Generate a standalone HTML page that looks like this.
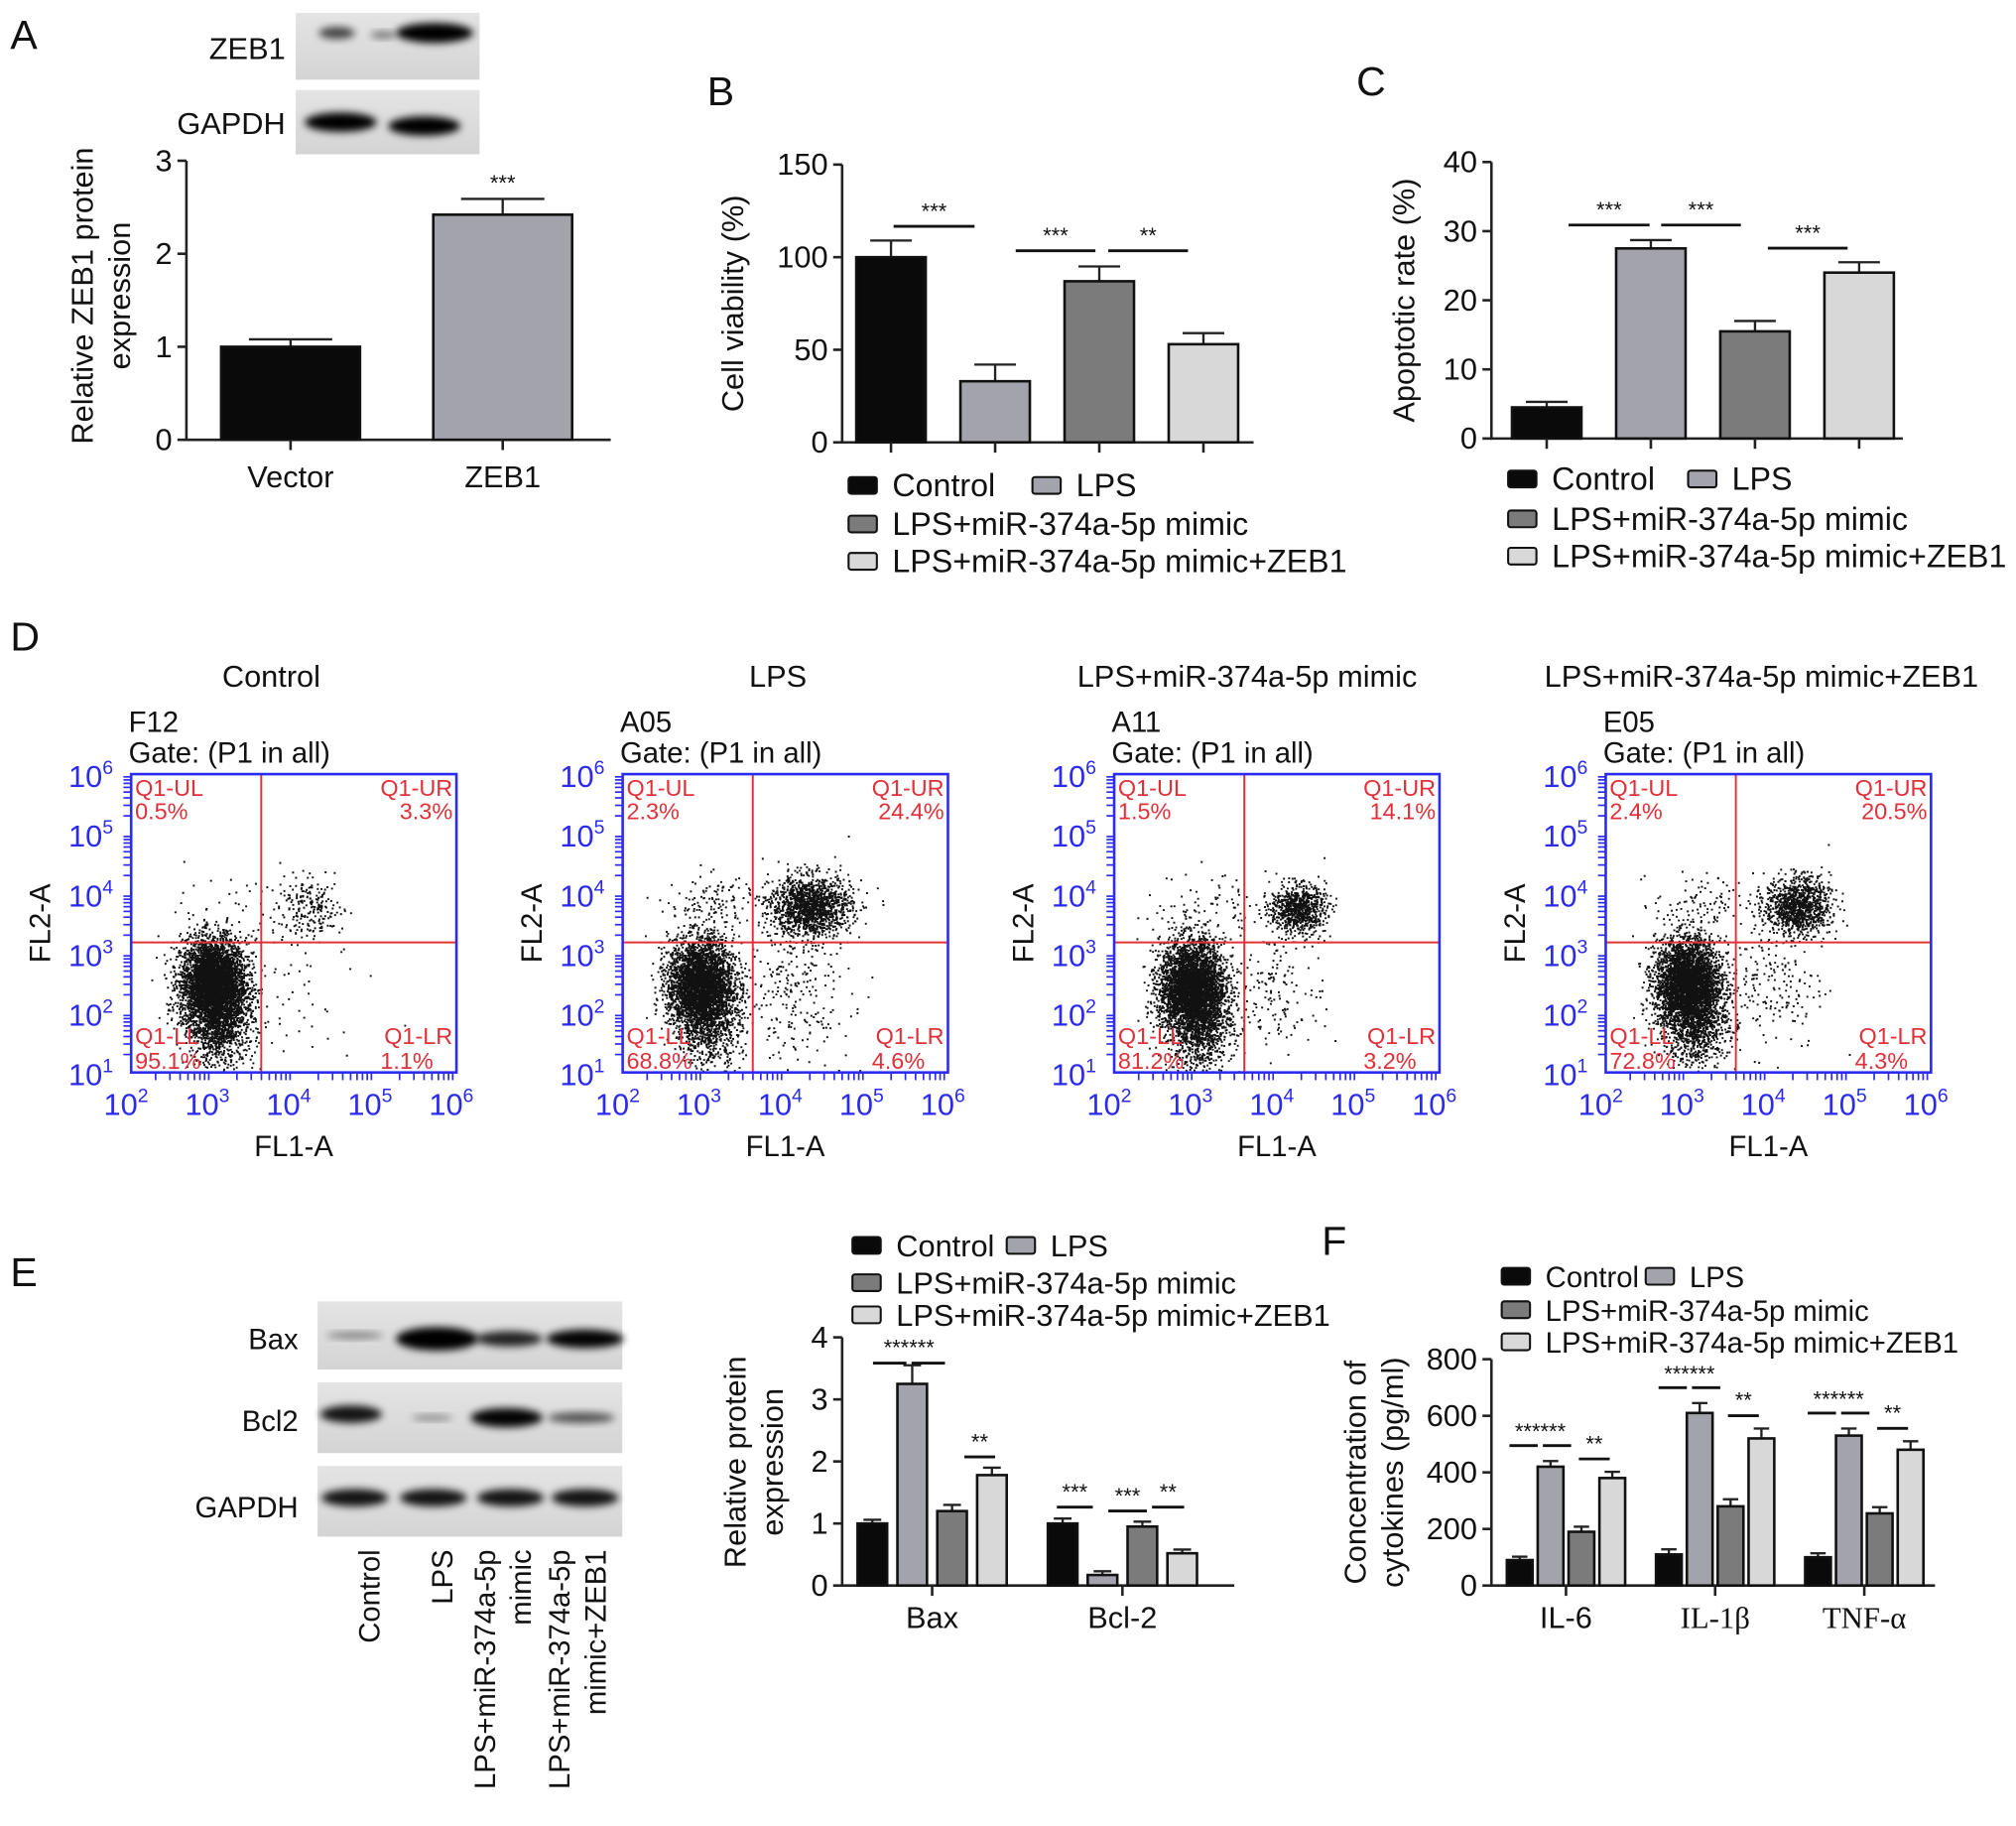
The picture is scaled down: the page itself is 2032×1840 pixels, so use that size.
<!DOCTYPE html>
<html><head><meta charset="utf-8"><style>
html,body{margin:0;padding:0;background:#fff;}
svg{display:block;font-family:"Liberation Sans",Arial,sans-serif;}
</style></head><body>
<svg id="fig" width="2032" height="1840" viewBox="0 0 1568 1420" preserveAspectRatio="none" xmlns="http://www.w3.org/2000/svg">
<defs>
<filter id="blur2" x="-20%" y="-50%" width="140%" height="200%"><feGaussianBlur stdDeviation="3"/></filter>
<linearGradient id="blotbg" x1="0" y1="0" x2="0" y2="1"><stop offset="0" stop-color="#e4e4e4"/><stop offset="1" stop-color="#d4d4d4"/></linearGradient>
</defs>
<g id="root"></g>
</svg>
<script>
// ---------- data ----------
const aCats = ["Vector", "ZEB1"];
const aVals = [1.0, 2.42];
const aErr = [0.08, 0.17];
const groups4 = ["Control", "LPS", "LPS+miR-374a-5p mimic", "LPS+miR-374a-5p mimic+ZEB1"];
const bVals = [100, 33, 87, 53];
const bErr = [9, 9, 8, 6];
const bTicks = [0, 50, 100, 150];
const cVals = [4.5, 27.5, 15.5, 24];
const cErr = [0.8, 1.2, 1.5, 1.5];
const cTicks = [0, 10, 20, 30, 40];
const eGroups = ["Bax", "Bcl-2"];
const eControl = [1.0, 1.0];
const eLPS = [3.25, 0.17];
const eMimic = [1.2, 0.95];
const eZEB1 = [1.78, 0.52];
const eErrControl = [0.06, 0.08];
const eErrLPS = [0.3, 0.06];
const eErrMimic = [0.1, 0.08];
const eErrZEB1 = [0.12, 0.06];
const eTicks = [0, 1, 2, 3, 4];
const fGroups = ["IL-6", "IL-1β", "TNF-α"];
const fControl = [90, 110, 100];
const fLPS = [420, 610, 530];
const fMimic = [190, 280, 255];
const fZEB1 = [380, 520, 480];
const fErrControl = [12, 18, 14];
const fErrLPS = [20, 35, 25];
const fErrMimic = [18, 25, 22];
const fErrZEB1 = [22, 35, 30];
const fTicks = [0, 200, 400, 600, 800];
const flowTitles = ["Control", "LPS", "LPS+miR-374a-5p mimic", "LPS+miR-374a-5p mimic+ZEB1"];
const flowIds = ["F12", "A05", "A11", "E05"];
const flowUL = ["0.5%", "2.3%", "1.5%", "2.4%"];
const flowUR = ["3.3%", "24.4%", "14.1%", "20.5%"];
const flowLL = ["95.1%", "68.8%", "81.2%", "72.8%"];
const flowLR = ["1.1%", "4.6%", "3.2%", "4.3%"];
// clusters per plot in log units: [cx, cy, sx, sy, count]
const flowClusters = [
  [[3.0,2.5,0.2,0.38,4200],[3.1,1.8,0.2,0.35,900],[4.2,3.75,0.2,0.25,220],[3.2,3.6,0.5,0.4,50],[4.0,2.5,0.5,0.6,50]],
  [[2.95,2.5,0.2,0.38,3400],[3.05,1.8,0.2,0.35,700],[4.3,3.8,0.25,0.25,1500],[3.05,3.85,0.25,0.25,110],[4.1,2.4,0.35,0.6,250]],
  [[2.95,2.45,0.2,0.38,3800],[3.05,1.75,0.2,0.35,800],[4.25,3.75,0.17,0.2,800],[3.1,3.8,0.3,0.3,80],[4.0,2.5,0.3,0.55,160]],
  [[3.0,2.5,0.2,0.38,3600],[3.1,1.8,0.2,0.35,750],[4.35,3.8,0.2,0.24,1100],[3.2,3.85,0.3,0.25,90],[4.0,2.5,0.35,0.55,200]]
];
const flowGateX = 3.6, flowGateY = 3.18;

// ---------- helpers ----------
const NS = "http://www.w3.org/2000/svg";
const root = document.getElementById("root");
const FS = 1.13;
function el(tag, attrs, parent, text){
  const e = document.createElementNS(NS, tag);
  for (const k in attrs) e.setAttribute(k, attrs[k]);
  if (text !== undefined) e.textContent = text;
  (parent || root).appendChild(e);
  return e;
}
function grp(name, parent){
  const g = document.createElementNS(NS, "g");
  
  
  (parent || root).appendChild(g);
  return g;
}
function txt(parent, name, x, y, s, size, anchor, extra){
  const t = el("text", Object.assign({x:x, y:y, "font-size":size*FS, "text-anchor":anchor||"start", fill:"#111"}, extra||{}), parent, s);
  
  
  return t;
}
const FILLS = ["#0a0a0a", "#a3a3ab", "#7b7b7b", "#d8d8d8"];

function yAxis(g, x, y0, yTop, max, ticks, fs){
  const sy = v => y0 - (v / max) * (y0 - yTop);
  const ax = el("line", {x1:x, y1:y0+1, x2:x, y2:yTop, stroke:"#222", "stroke-width":2}, g);
  
  
  ticks.forEach(t => {
    el("line", {x1:x-7, y1:sy(t), x2:x, y2:sy(t), stroke:"#222", "stroke-width":2}, g);
    txt(g, "y-tick-label", x-11, sy(t)+8, String(t), fs||21, "end");
  });
  return sy;
}
function bar(g, name, x, w, sy, v, e, fill){
  if (e) {
    el("line", {x1:x+w/2, y1:sy(v), x2:x+w/2, y2:sy(v+e), stroke:"#222", "stroke-width":1.8}, g);
    el("line", {x1:x+w/2-w*0.3, y1:sy(v+e), x2:x+w/2+w*0.3, y2:sy(v+e), stroke:"#222", "stroke-width":1.8}, g);
  }
  const r = el("rect", {x:x, y:sy(v), width:w, height:sy(0)-sy(v), fill:fill, stroke:"#111", "stroke-width":2}, g);
  
  
}
function sig(g, x1, x2, y, stars){
  el("line", {x1:x1, y1:y, x2:x2, y2:y, stroke:"#111", "stroke-width":2.2}, g);
  txt(g, "significance-stars", (x1+x2)/2, y-6, stars, 15, "middle");
}
function legendEntry(g, x, y, i, label, fs){
  const r = el("rect", {x:x, y:y-13, width:22, height:13, rx:2, fill:FILLS[i], stroke:"#111", "stroke-width":1.6}, g);
  
  
  txt(g, "legend-entry", x+34, y+2, label, fs||22, "start");
}
function blot(g, x, y, w, h, bands){
  el("rect", {x:x, y:y, width:w, height:h, fill:"url(#blotbg)"}, g);
  bands.forEach(b => {
    if (b[2] > 0) el("ellipse", {cx:b[0], cy:y+h*b[3], rx:b[1], ry:h*0.12*b[2]+1.5, fill:"#000", opacity:Math.min(1, 0.35+b[2]*0.7), filter:"url(#blur2)"}, g);
  });
}

// ---------- Panel A ----------
(function(){
  const g = grp("panel-a");
  txt(g, "panel-label-a", 8, 38, "A", 28, "start");
  const wb = grp("western-blot-a", g);
  blot(wb, 230, 10, 143, 52, [[262,14,0.5,0.3],[298,10,0.2,0.33],[338,30,1,0.3]]);
  blot(wb, 230, 70, 143, 50, [[265,28,1,0.5],[330,28,1,0.56]]);
  txt(wb, "blot-label-zeb1", 222, 46, "ZEB1", 21, "end");
  txt(wb, "blot-label-gapdh", 222, 104, "GAPDH", 21, "end");
  const sy = yAxis(g, 145, 342, 125, 3, [0,1,2,3]);
  el("line", {x1:144, y1:342, x2:475, y2:342, stroke:"#222", "stroke-width":2}, g);
  const cx = i => 226 + i * 165;
  aCats.forEach((c, i) => {
    bar(g, "bar-" + c.toLowerCase(), cx(i)-54, 108, sy, aVals[i], aErr[i], i ? FILLS[1] : FILLS[0]);
    el("line", {x1:cx(i), y1:342, x2:cx(i), y2:350, stroke:"#222", "stroke-width":2}, g);
    txt(g, "x-tick-label", cx(i), 379, c, 21, "middle");
  });
  txt(g, "significance-stars", cx(1), 148, "***", 15, "middle");
  txt(g, "y-axis-title", 0, 0, "Relative ZEB1 protein", 21, "middle", {transform:"translate(72,230) rotate(-90)"});
  txt(g, "y-axis-title-line2", 0, 0, "expression", 21, "middle", {transform:"translate(101,230) rotate(-90)"});
})();

// ---------- Panels B, C ----------
function panelBC(name, letter, lx, ly, ax, y0, yTop, max, ticks, vals, errs, x0, title, titleX, sigs, legY, legX, lpsX){
  const g = grp(name);
  txt(g, "panel-label-" + letter.toLowerCase(), lx, ly, letter, 28, "start");
  const sy = yAxis(g, ax, y0, yTop, max, ticks);
  el("line", {x1:ax-1, y1:y0, x2:ax+320, y2:y0, stroke:"#222", "stroke-width":2}, g);
  const cx = i => x0 + i * 81;
  vals.forEach((v, i) => {
    bar(g, "bar-" + ["control","lps","mimic","mimic-zeb1"][i], cx(i)-27, 54, sy, v, errs[i], FILLS[i]);
    el("line", {x1:cx(i), y1:y0, x2:cx(i), y2:y0+8, stroke:"#222", "stroke-width":2}, g);
  });
  sigs.forEach(s => sig(g, s[0], s[1], s[2], s[3]));
  txt(g, "y-axis-title", 0, 0, title, 21, "middle", {transform:"translate(" + titleX + "," + ((y0+yTop)/2) + ") rotate(-90)"});
  const lg = grp("legend", g);
  legendEntry(lg, legX, legY[0], 0, groups4[0]);
  legendEntry(lg, lpsX, legY[0], 1, groups4[1]);
  legendEntry(lg, legX, legY[1], 2, groups4[2]);
  legendEntry(lg, legX, legY[2], 3, groups4[3]);
}
panelBC("panel-b", "B", 550, 82, 655, 344, 128, 150, bTicks, bVals, bErr, 693, "Cell viability (%)", 578,
  [[695,758,176,"***"],[790,852,195,"***"],[862,924,195,"**"]], [384,414,443], 660, 803);
panelBC("panel-c", "C", 1055, 74, 1160, 341, 126, 40, cTicks, cVals, cErr, 1203, "Apoptotic rate (%)", 1100,
  [[1220,1283,175,"***"],[1292,1354,175,"***"],[1375,1437,193,"***"]], [379,410,439], 1173, 1313);

// ---------- Panel D (flow) ----------
txt(grp("panel-d"), "panel-label-d", 8, 506, "D", 28, "start");
const flowTitleX = [211, 605, 970, 1370];
let seed = 12345;
function rnd(){ seed = (seed * 1103515245 + 12345) % 2147483648; return seed / 2147483648; }
function gauss(){ let u = rnd() || 1e-6, v = rnd(); return Math.sqrt(-2*Math.log(u)) * Math.cos(2*Math.PI*v); }
function flowPlot(k){
  const L = 102 + k * 382.3, T = 602, W = 253, H = 232;
  const g = grp("flow-plot-" + (k+1));
  const sx = v => L + (v - 2) / 4 * W;
  const sy = v => T + H - (v - 1) / 5 * H;
  txt(g, "flow-title", flowTitleX[k], 534, flowTitles[k], 21, "middle");
  txt(g, "sample-id", L - 2, 569, flowIds[k], 20, "start");
  txt(g, "gate-label", L - 2, 593, "Gate: (P1 in all)", 20, "start");
  let d = "";
  flowClusters[k].forEach(c => {
    for (let i = 0; i < c[4]; i++){
      let x = c[0] + gauss()*c[2], y = c[1] + gauss()*c[3];
      if (x < 2.05 || x > 5.95 || y < 1.02 || y > 5.95) continue;
      d += "M" + sx(x).toFixed(1) + " " + sy(y).toFixed(1) + "h1.5v1.5h-1.5z";
    }
  });
  const p = el("path", {d:d, fill:"#111"}, g);
  
  
  el("line", {x1:sx(flowGateX), y1:T, x2:sx(flowGateX), y2:T+H, stroke:"#e0303a", "stroke-width":1.5}, g);
  el("line", {x1:L, y1:sy(flowGateY), x2:L+W, y2:sy(flowGateY), stroke:"#e0303a", "stroke-width":1.5}, g);
  const box = el("rect", {x:L, y:T, width:W, height:H, fill:"none", stroke:"#2a2af0", "stroke-width":2}, g);
  
  
  for (let dct = 2; dct < 6; dct++) for (let m = 1; m < 10; m++){
    const x = sx(dct + Math.log10(m));
    el("line", {x1:x, y1:T+H, x2:x, y2:T+H+(m===1?0:6), stroke:"#2a2af0", "stroke-width":1.3}, g);
  }
  for (let dct = 1; dct < 6; dct++) for (let m = 1; m < 10; m++){
    const y = sy(dct + Math.log10(m));
    el("line", {x1:L-(m===1?0:6), y1:y, x2:L, y2:y, stroke:"#2a2af0", "stroke-width":1.3}, g);
  }
  for (let e = 2; e <= 6; e++){
    const t = txt(g, "x-tick-label", sx(e) - 4, T+H+33, "10", 21, "middle", {fill:"#2a2af0"});
    el("tspan", {dy:-10, "font-size":15}, t, String(e));
  }
  for (let e = 1; e <= 6; e++){
    const t = txt(g, "y-tick-label", L - 14, sy(e) + 10, "10", 21, "end", {fill:"#2a2af0"});
    el("tspan", {dy:-10, "font-size":15}, t, String(e));
  }
  txt(g, "x-axis-title", L + W/2, T+H+65, "FL1-A", 20, "middle");
  txt(g, "y-axis-title", 0, 0, "FL2-A", 20, "middle", {transform:"translate(" + (L-63) + "," + (T+H/2) + ") rotate(-90)"});
  const red = {fill:"#e0303a"};
  txt(g, "quadrant-ul", L+3, T+17, "Q1-UL", 16, "start", red);
  txt(g, "quadrant-ul-value", L+3, T+35, flowUL[k], 16, "start", red);
  txt(g, "quadrant-ur", L+W-3, T+17, "Q1-UR", 16, "end", red);
  txt(g, "quadrant-ur-value", L+W-3, T+35, flowUR[k], 16, "end", red);
  txt(g, "quadrant-ll", L+3, T+H-22, "Q1-LL", 16, "start", red);
  txt(g, "quadrant-ll-value", L+3, T+H-3, flowLL[k], 16, "start", red);
  txt(g, "quadrant-lr", L+W-3, T+H-22, "Q1-LR", 16, "end", red);
  txt(g, "quadrant-lr-value", L+W-18, T+H-3, flowLR[k], 16, "end", red);
}
for (let k = 0; k < 4; k++) flowPlot(k);

// ---------- Panel E ----------
(function(){
  const g = grp("panel-e");
  txt(g, "panel-label-e", 8, 1000, "E", 28, "start");
  const wb = grp("western-blot-e", g);
  blot(wb, 247, 1012, 237, 53, [[276,22,0.15,0.5],[340,32,1.2,0.55],[396,26,0.7,0.55],[455,30,0.9,0.55]]);
  blot(wb, 247, 1075, 237, 55, [[273,24,0.8,0.45],[336,16,0.1,0.5],[394,28,0.9,0.5],[452,26,0.4,0.5]]);
  blot(wb, 247, 1140, 237, 55, [[276,26,0.8,0.45],[337,26,0.8,0.45],[397,26,0.8,0.45],[455,26,0.8,0.45]]);
  txt(wb, "blot-label-bax", 232, 1049, "Bax", 20, "end");
  txt(wb, "blot-label-bcl2", 232, 1113, "Bcl2", 20, "end");
  txt(wb, "blot-label-gapdh", 232, 1180, "GAPDH", 20, "end");
  [[295,"Control"],[352,"LPS"],[385,"LPS+miR-374a-5p"],[413,"mimic"],[443,"LPS+miR-374a-5p"],[471,"mimic+ZEB1"]].forEach(l => {
    txt(wb, "lane-label", 0, 0, l[1], 20, "end", {transform:"translate(" + l[0] + ",1205) rotate(-90)"});
  });
  const y0 = 1233, sy = yAxis(g, 655, y0, 1040, 4, eTicks);
  el("line", {x1:654, y1:y0, x2:960, y2:y0, stroke:"#222", "stroke-width":2}, g);
  const series = [eControl, eLPS, eMimic, eZEB1], errs = [eErrControl, eErrLPS, eErrMimic, eErrZEB1];
  const gx = gi => 725 + gi * 148;
  eGroups.forEach((gn, gi) => {
    series.forEach((s, si) => bar(g, "bar-" + gn.toLowerCase() + "-" + si, gx(gi) - 58 + si*31, 23, sy, s[gi], errs[si][gi], FILLS[si]));
    el("line", {x1:gx(gi), y1:y0, x2:gx(gi), y2:y0+8, stroke:"#222", "stroke-width":2}, g);
    txt(g, "x-tick-label", gx(gi), 1266, gn, 21, "middle");
  });
  el("line", {x1:679, y1:1060, x2:705, y2:1060, stroke:"#111", "stroke-width":2.2}, g);
  el("line", {x1:709, y1:1060, x2:735, y2:1060, stroke:"#111", "stroke-width":2.2}, g);
  txt(g, "significance-stars", 707, 1054, "******", 15, "middle");
  sig(g, 750, 774, 1133, "**");
  sig(g, 822, 850, 1172, "***");
  sig(g, 862, 892, 1175, "***");
  sig(g, 896, 921, 1172, "**");
  txt(g, "y-axis-title", 0, 0, "Relative protein", 21, "middle", {transform:"translate(580,1137) rotate(-90)"});
  txt(g, "y-axis-title-line2", 0, 0, "expression", 21, "middle", {transform:"translate(609,1137) rotate(-90)"});
  const lg = grp("legend", g);
  legendEntry(lg, 663, 975, 0, groups4[0], 21);
  legendEntry(lg, 783, 975, 1, groups4[1], 21);
  legendEntry(lg, 663, 1004, 2, groups4[2], 21);
  legendEntry(lg, 663, 1029, 3, groups4[3], 21);
})();

// ---------- Panel F ----------
(function(){
  const g = grp("panel-f");
  txt(g, "panel-label-f", 1028, 976, "F", 28, "start");
  const y0 = 1233, sy = yAxis(g, 1160, y0, 1057, 800, fTicks);
  el("line", {x1:1159, y1:y0, x2:1505, y2:y0, stroke:"#222", "stroke-width":2}, g);
  const series = [fControl, fLPS, fMimic, fZEB1], errs = [fErrControl, fErrLPS, fErrMimic, fErrZEB1];
  const gx = gi => 1218 + gi * 116;
  fGroups.forEach((gn, gi) => {
    series.forEach((s, si) => bar(g, "bar-" + gi + "-" + si, gx(gi) - 46 + si*24, 20, sy, s[gi], errs[si][gi], FILLS[si]));
    el("line", {x1:gx(gi), y1:y0, x2:gx(gi), y2:y0+8, stroke:"#222", "stroke-width":2}, g);
    txt(g, "x-tick-label", gx(gi), 1266, gn, 21, "middle", gi ? {"font-family":"Liberation Serif, serif"} : {});
    const lx = gx(gi) - 36;
    const top = sy(fLPS[gi] + errs[1][gi]);
    el("line", {x1:lx-8, y1:top-12, x2:lx+14, y2:top-12, stroke:"#111", "stroke-width":2.2}, g);
    el("line", {x1:lx+18, y1:top-12, x2:lx+40, y2:top-12, stroke:"#111", "stroke-width":2.2}, g);
    txt(g, "significance-stars", lx+16, top-17, "******", 15, "middle");
    sig(g, lx+46, lx+70, sy(fZEB1[gi] + errs[3][gi]) - 10, "**");
  });
  txt(g, "y-axis-title", 0, 0, "Concentration of", 21, "middle", {transform:"translate(1062,1145) rotate(-90)"});
  txt(g, "y-axis-title-line2", 0, 0, "cytokines (pg/ml)", 21, "middle", {transform:"translate(1091,1145) rotate(-90)"});
  const lg = grp("legend", g);
  legendEntry(lg, 1168, 999, 0, groups4[0], 20);
  legendEntry(lg, 1280, 999, 1, groups4[1], 20);
  legendEntry(lg, 1168, 1025, 2, groups4[2], 20);
  legendEntry(lg, 1168, 1050, 3, groups4[3], 20);
})();
</script>
</body></html>
